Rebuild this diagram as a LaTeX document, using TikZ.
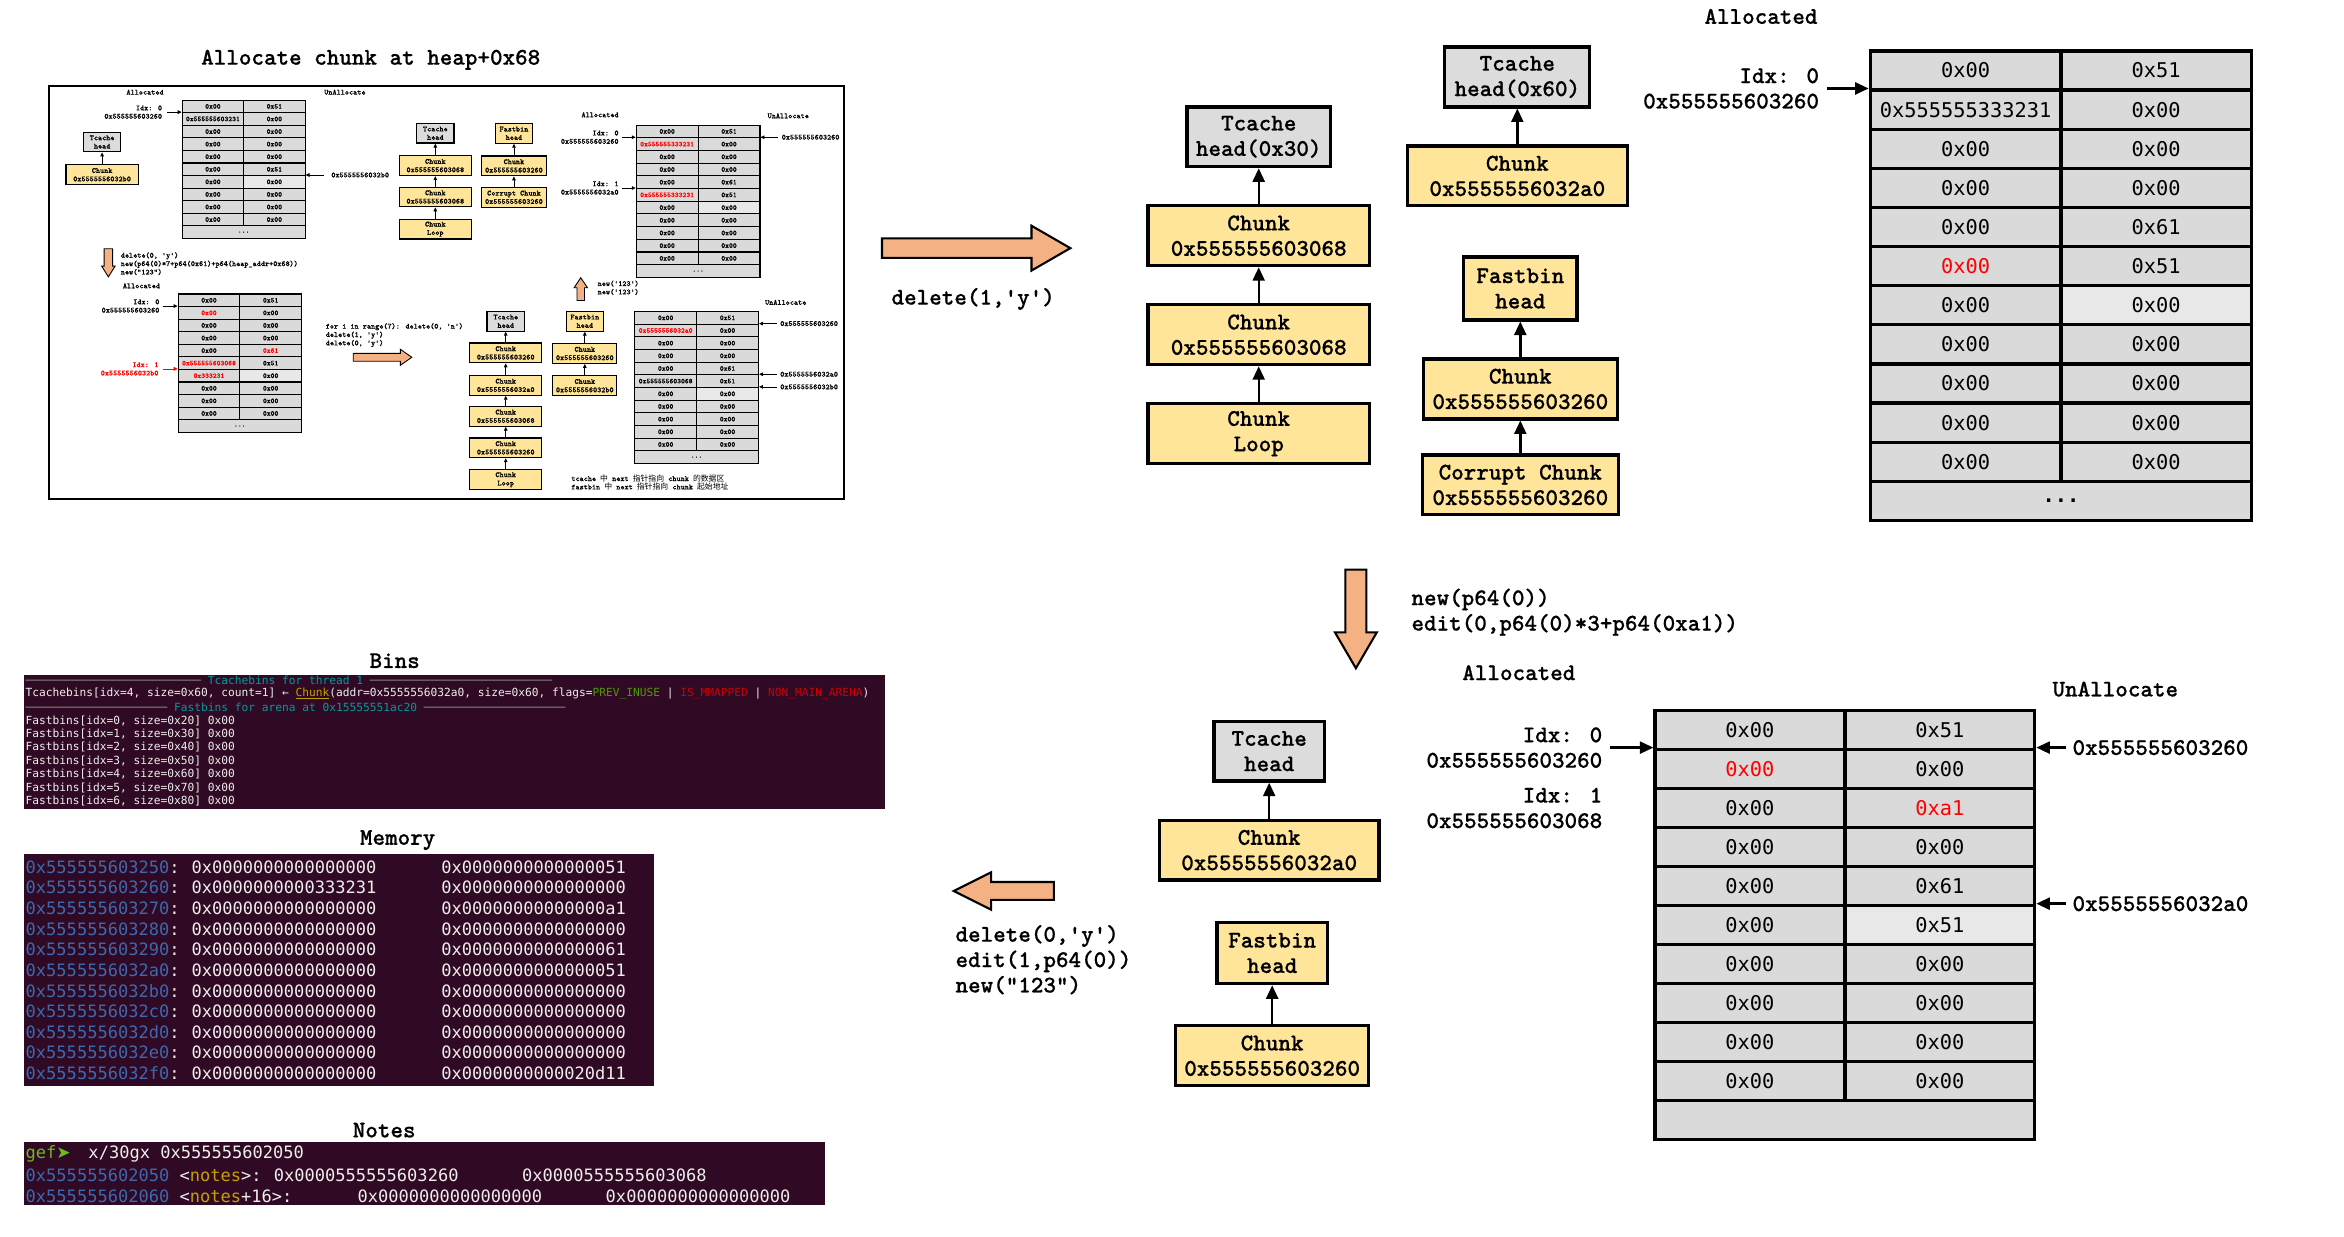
\documentclass[tikz,border=0pt]{standalone}
\usepackage{fontspec}
\usetikzlibrary{positioning, arrows.meta}
\newfontfamily\lblfam{lmmonolt10-bold.otf}[FakeBold=0.6]
\newfontfamily\cellfam{DejaVu Sans Mono}
\newfontfamily\symfam{DejaVu Sans}
\newfontfamily\cjk{Noto Sans CJK SC}
\definecolor{headgray}{RGB}{220, 220, 220}
\definecolor{cellbg}{RGB}{218, 218, 218}
\definecolor{cellhi}{RGB}{232, 232, 232}
\definecolor{chunkyel}{RGB}{255, 229, 153}
\definecolor{fatorange}{RGB}{244, 177, 131}
\definecolor{termbg}{RGB}{48, 10, 36}
\definecolor{termfg}{RGB}{238, 238, 236}
\definecolor{termteal}{RGB}{6, 152, 154}
\definecolor{termrule}{RGB}{136, 138, 133}
\definecolor{termyel}{RGB}{196, 160, 0}
\definecolor{termgrn}{RGB}{78, 154, 6}
\definecolor{gefgrn}{RGB}{110, 185, 30}
\definecolor{termred}{RGB}{204, 0, 0}
\definecolor{addrblue}{RGB}{60, 105, 175}
\newcommand{\lblfont}{\lblfam\fontsize{16}{17}\selectfont}
\newcommand{\cellfont}{\cellfam\fontsize{13.6}{16}\selectfont}
\newcommand{\minifont}{\lblfam\fontsize{5.25}{5.6}\selectfont}
\newcommand{\minicellfont}{\lblfam\fontsize{4.9}{5}\selectfont}
\newcommand{\binfont}{\cellfam\fontsize{7.5}{9}\selectfont}
\newcommand{\termfont}{\cellfam\fontsize{11.4}{13.8}\selectfont}
\newcommand{\bxfont}{\lblfont}
\newcommand{\redv}[1]{\textcolor{red}{#1}}
\def\bw{2.2pt}
\def\tabw{2.2pt}
\def\aw{1.6pt}
\def\tipl{9pt}
\def\tipw{8pt}
\def\fw{1.4pt}
% memory table: name, x, y, cell width, row height, light row, rows, values, last row
\newcommand{\memtable}[9]{%
  \foreach \lv/\rv [count=\i from 0] in {#8} {
    \ifnum\i=#6 \def\rfill{cellhi}\else\def\rfill{cellbg}\fi
    \node[cell, minimum width=#4, minimum height=#5, anchor=north west] (#1-\i-l) at ({#2}, {#3+\i*#5}) {\lv};
    \node[cell, fill=\rfill, minimum width=#4, minimum height=#5, anchor=north west] (#1-\i-r) at ({#2+#4}, {#3+\i*#5}) {\rv};
  }
  \node[cell, minimum width={2*#4}, minimum height=#5, anchor=north west] (#1-end) at ({#2}, {#3+#7*#5}) {#9};
}
% block arrow: tip x, tip y, angle, length, shaft, head width, head length
\newcommand{\fatarrow}[7]{%
  \draw[fatarr, shift={(#1,#2)}, rotate=#3] (0,0) -- (-#7,{#6/2}) -- (-#7,{#5/2}) -- (-#4,{#5/2})
    -- (-#4,{-#5/2}) -- (-#7,{-#5/2}) -- (-#7,{-#6/2}) -- cycle;
}

\begin{document}
\begin{tikzpicture}[x=1pt, y=-1pt,
    headbox/.style={draw, line width=\bw, fill=headgray, font=\bxfont, align=center, inner sep=0pt, minimum height=40pt},
    chunkbox/.style={headbox, fill=chunkyel},
    cell/.style={draw, line width=\tabw, fill=cellbg, font=\cellfont, inner sep=0pt},
    ptr/.style={-{Triangle[length=\tipl, width=\tipw]}, line width=\aw},
    lbl/.style={font=\lblfont, inner sep=0pt},
    fatarr/.style={draw, line width=\fw, fill=fatorange, line join=miter},
    term/.style={fill=termbg, inner sep=0pt, anchor=north west},
    ttext/.style={font=\termfont, text=termfg, inner sep=0pt, anchor=west},
    btext/.style={font=\binfont, text=termfg, inner sep=0pt, anchor=west}
  ]
  \useasboundingbox (0,0) rectangle (1568,827);

  % earlier steps, small copy
  \node[lbl] (title) at (248,40) {Allocate chunk at heap+0x68};
  \node[draw, line width=1.3pt, minimum width=532, minimum height=276, anchor=north west, inner sep=0pt] (frame) at (32,57) {};
  \begin{scope}[headbox/.append style={minimum height=13.2}]
    \def\bw{0.8pt}\def\tabw{0.75pt}\def\aw{0.5pt}\def\tipl{2.6pt}\def\tipw{2.4pt}\def\fw{0.6pt}
    \let\lblfont\minifont \let\bxfont\minifont \let\cellfont\minicellfont
    \node[lbl] (mal1) at (97,61.7) {Allocated};
    \node[lbl] (mun1) at (230.7,61.7) {UnAllocate};
    \memtable{mT1}{121.5}{66.6}{41.1}{8.41}{6}{10}{0x00/0x51, 0x555555603231/0x00, 0x00/0x00, 0x00/0x00, 0x00/0x00, 0x00/0x51, 0x00/0x00, 0x00/0x00, 0x00/0x00, 0x00/0x00}{...}
    \node[lbl, align=right, left=12.9pt of mT1-1-l.north west] (mid1) {Idx: 0\\0x555555603260};
    \draw[ptr] ([xshift=3.2pt]mid1.east) -- (mT1-1-l.north west);
    \node[lbl, right=17pt of mT1-6-r.north east] (mua1) {0x5555556032b0};
    \draw[ptr] ([xshift=-5pt]mua1.west) -- (mT1-6-r.north east);
    \node[headbox, minimum width=24.5] (mTc1) at (68.3,95) {Tcache\\head};
    \node[chunkbox, minimum width=48.3] (mCk1) at (68.3,116.9) {Chunk\\0x5555556032b0};
    \draw[ptr] (mCk1) -- (mTc1);

    \fatarrow{72.5}{185.2}{-90}{18.8}{5.6}{9}{7.2}
    \node[lbl, align=left, anchor=west] (mcmd1) at (80.6,176.4) {delete(0, 'y')\\new(p64(0)*7+p64(0x61)+p64(heap\_addr+0x68))\\new("123")};
    \node[lbl] (mal2) at (94.6,191.2) {Allocated};
    \memtable{mT2}{118.8}{196.3}{41.25}{8.41}{6}{10}{0x00/0x51, \redv{0x00}/0x00, 0x00/0x00, 0x00/0x00, 0x00/\redv{0x61}, \redv{0x555555603068}/0x51, \redv{0x333231}/0x00, 0x00/0x00, 0x00/0x00, 0x00/0x00}{...}
    \node[lbl, align=right, left=12pt of mT2-1-l.north west] (mid2) {Idx: 0\\0x555555603260};
    \draw[ptr] ([xshift=2.5pt]mid2.east) -- (mT2-1-l.north west);
    \node[lbl, align=right, text=red, left=12.6pt of mT2-6-l.north west] (mid3) {Idx: 1\\0x5555556032b0};
    \draw[ptr, red] ([xshift=3pt]mid3.east) -- (mT2-6-l.north west);
    \node[lbl, align=left, anchor=west] (mcmd2) at (217.7,224.2) {for i in range(7): delete(0, 'n')\\delete(1, 'y')\\delete(0, 'y')};
    \fatarrow{275.5}{239}{0}{39.2}{5.3}{10.7}{7.7}

    \node[headbox, minimum width=25] (mTc2) at (291.2,89.1) {Tcache\\head};
    \node[chunkbox, minimum width=48] (mCk2) at (291.2,110.8) {Chunk\\0x555555603068};
    \node[chunkbox, minimum width=48] (mCk3) at (291.2,131.8) {Chunk\\0x555555603068};
    \node[chunkbox, minimum width=48] (mCk4) at (291.2,153.3) {Chunk\\Loop};
    \draw[ptr] (mCk2) -- (mTc2);
    \draw[ptr] (mCk3) -- (mCk2);
    \draw[ptr] (mCk4) -- (mCk3);
    \node[chunkbox, minimum width=24.8] (mFb1) at (343.8,89.2) {Fastbin\\head};
    \node[chunkbox, minimum width=43.1] (mCk5) at (343.8,111) {Chunk\\0x555555603260};
    \node[chunkbox, minimum width=43.1] (mCk6) at (343.8,132) {Corrupt Chunk\\0x555555603260};
    \draw[ptr] (mCk5) -- (mFb1);
    \draw[ptr] (mCk6) -- (mCk5);

    \node[lbl] (mal3) at (401.4,76.8) {Allocated};
    \node[lbl] (mun3) at (527.3,77.5) {UnAllocate};
    \memtable{mT3}{425.2}{83.3}{41.4}{8.49}{6}{11}{0x00/0x51, \redv{0x555555333231}/0x00, 0x00/0x00, 0x00/0x00, 0x00/0x61, \redv{0x555555333231}/0x51, 0x00/0x00, 0x00/0x00, 0x00/0x00, 0x00/0x00, 0x00/0x00}{...}
    \node[lbl, align=right, left=11.2pt of mT3-1-l.north west] (mid4) {Idx: 0\\0x555555603260};
    \draw[ptr] ([xshift=2pt]mid4.east) -- (mT3-1-l.north west);
    \node[lbl, align=right, left=11.2pt of mT3-5-l.north west] (mid5) {Idx: 1\\0x5555556032a0};
    \draw[ptr] ([xshift=2pt]mid5.east) -- (mT3-5-l.north west);
    \node[lbl, right=14pt of mT3-1-r.north east] (mua3) {0x555555603260};
    \draw[ptr] ([xshift=-2pt]mua3.west) -- (mT3-1-r.north east);
    \fatarrow{388.5}{185.8}{90}{15.2}{5}{9}{6.7}
    \node[lbl, align=left, anchor=west] (mcmd3) at (399.6,192.5) {new('123')\\new('123')};

    \node[lbl] (mun4) at (525.6,202.3) {UnAllocate};
    \memtable{mT4}{424.2}{208}{41.4}{8.47}{6}{11}{0x00/0x51, \redv{0x5555556032a0}/0x00, 0x00/0x00, 0x00/0x00, 0x00/0x61, 0x555555603068/0x51, 0x00/0x00, 0x00/0x00, 0x00/0x00, 0x00/0x00, 0x00/0x00}{...}
    \node[lbl, right=14pt of mT4-1-r.north east] (mua4) {0x555555603260};
    \draw[ptr] ([xshift=-2pt]mua4.west) -- (mT4-1-r.north east);
    \node[lbl, right=14pt of mT4-5-r.north east] (mua5) {0x5555556032a0};
    \draw[ptr] ([xshift=-2pt]mua5.west) -- (mT4-5-r.north east);
    \node[lbl, right=14pt of mT4-6-r.north east] (mua6) {0x5555556032b0};
    \draw[ptr] ([xshift=-2pt]mua6.west) -- (mT4-6-r.north east);

    \node[headbox, minimum width=25] (mTc3) at (338.3,214.9) {Tcache\\head};
    \node[chunkbox, minimum width=48] (mCk7) at (338.3,236.1) {Chunk\\0x555555603260};
    \node[chunkbox, minimum width=48] (mCk8) at (338.3,257.8) {Chunk\\0x5555556032a0};
    \node[chunkbox, minimum width=48] (mCk9) at (338.3,278.5) {Chunk\\0x555555603068};
    \node[chunkbox, minimum width=48] (mCk10) at (338.3,299.6) {Chunk\\0x555555603260};
    \node[chunkbox, minimum width=48] (mCk11) at (338.3,320.9) {Chunk\\Loop};
    \draw[ptr] (mCk7) -- (mTc3);
    \draw[ptr] (mCk8) -- (mCk7);
    \draw[ptr] (mCk9) -- (mCk8);
    \draw[ptr] (mCk10) -- (mCk9);
    \draw[ptr] (mCk11) -- (mCk10);
    \node[chunkbox, minimum width=25] (mFb2) at (391.2,214.9) {Fastbin\\head};
    \node[chunkbox, minimum width=42.7] (mCk12) at (391.2,236.5) {Chunk\\0x555555603260};
    \node[chunkbox, minimum width=42.7] (mCk13) at (391.2,258) {Chunk\\0x5555556032b0};
    \draw[ptr] (mCk12) -- (mFb2);
    \draw[ptr] (mCk13) -- (mCk12);
    \node[lbl, align=left, anchor=west] (mnote) at (382,322.6) {tcache {\cjk 中} next {\cjk 指针指向} chunk {\cjk 的数据区}\\fastbin {\cjk 中} next {\cjk 指针指向} chunk {\cjk 起始地址}};
  \end{scope}

  % delete(1,'y') step
  \fatarrow{716}{166}{0}{126}{13}{30}{26}
  \node[lbl] (cmd1) at (651,200) {delete(1,'y')};
  \node[headbox, minimum width=96] (tcA) at (842,91.5) {Tcache\\head(0x30)};
  \node[chunkbox, minimum width=148, below=24pt of tcA] (c1) {Chunk\\0x555555603068};
  \node[chunkbox, minimum width=148, below=24pt of c1] (c2) {Chunk\\0x555555603068};
  \node[chunkbox, minimum width=148, below=24pt of c2] (c3) {Chunk\\Loop};
  \draw[ptr] (c1) -- (tcA);
  \draw[ptr] (c2) -- (c1);
  \draw[ptr] (c3) -- (c2);
  \node[headbox, minimum width=97] (tcB) at (1015,51.5) {Tcache\\head(0x60)};
  \node[chunkbox, minimum width=147, below=24pt of tcB] (c4) {Chunk\\0x5555556032a0};
  \draw[ptr] (c4) -- (tcB);
  \node[chunkbox, minimum width=76, minimum height=42] (fbA) at (1017,193) {Fastbin\\head};
  \node[chunkbox, minimum width=130, below=24pt of fbA] (c5) {Chunk\\0x555555603260};
  \node[chunkbox, minimum width=131, below=22pt of c5] (c6) {Corrupt Chunk\\0x555555603260};
  \draw[ptr] (c5) -- (fbA);
  \draw[ptr] (c6) -- (c5);

  \node[lbl] (alA) at (1178,11) {Allocated};
  \memtable{A}{1250}{33}{127.5}{26.17}{6}{11}{0x00/0x51, 0x555555333231/0x00, 0x00/0x00, 0x00/0x00, 0x00/0x61, \redv{0x00}/0x51, 0x00/0x00, 0x00/0x00, 0x00/0x00, 0x00/0x00, 0x00/0x00}{\textbf{...}}
  \node[lbl, align=right, left=33pt of A-1-l.north west] (idxA) {Idx: 0\\0x555555603260};
  \draw[ptr] ([xshift=5pt]idxA.east) -- (A-1-l.north west);

  % new / edit step
  \fatarrow{907}{447}{-90}{66}{14}{28}{24}
  \node[lbl, align=left, anchor=west] (cmd2) at (944,409.5) {new(p64(0))\\edit(0,p64(0)*3+p64(0xa1))};
  \node[lbl] (alB) at (1016,450) {Allocated};
  \node[lbl] (unB) at (1415,461) {UnAllocate};
  \memtable{B}{1106}{474}{127}{26.1}{5}{10}{0x00/0x51, \redv{0x00}/0x00, 0x00/\redv{0xa1}, 0x00/0x00, 0x00/0x61, 0x00/0x51, 0x00/0x00, 0x00/0x00, 0x00/0x00, 0x00/0x00}{}
  \node[lbl, align=right, left=34pt of B-1-l.north west] (idxB0) {Idx: 0\\0x555555603260};
  \draw[ptr] ([xshift=5pt]idxB0.east) -- (B-1-l.north west);
  \node[lbl, align=right, anchor=east] (idxB1) at (1072,540.5) {Idx: 1\\0x555555603068};
  \node[lbl, right=24pt of B-1-r.north east] (uB1) {0x555555603260};
  \draw[ptr] ([xshift=-4pt]uB1.west) -- (B-1-r.north east);
  \node[lbl, right=24pt of B-5-r.north east] (uB5) {0x5555556032a0};
  \draw[ptr] ([xshift=-4pt]uB5.west) -- (B-5-r.north east);
  \node[headbox, minimum width=74] (tcC) at (849,502.5) {Tcache\\head};
  \node[chunkbox, minimum width=147, below=24pt of tcC] (c7) {Chunk\\0x5555556032a0};
  \draw[ptr] (c7) -- (tcC);
  \node[chunkbox, minimum width=74, minimum height=41] (fbB) at (851,637.5) {Fastbin\\head};
  \node[chunkbox, minimum width=129, below=26pt of fbB] (c8) {Chunk\\0x555555603260};
  \draw[ptr] (c8) -- (fbB);

  % last step
  \fatarrow{638}{596}{180}{67}{12}{25}{25}
  \node[lbl, align=left, anchor=west] (cmd3) at (639,642) {delete(0,'y')\\edit(1,p64(0))\\new("123")};

  % gdb output
  \node[lbl] (tbins) at (264,442) {Bins};
  \node[term, minimum width=576, minimum height=90] (binsp) at (16,451) {};
  \node[btext] (b0) at (17,455) {\textcolor{termrule}{\foreach \k in {1,...,26}{─}} \textcolor{termteal}{Tcachebins for thread 1} \textcolor{termrule}{\foreach \k in {1,...,27}{─}}};
  \node[btext] (b1) at (17,464) {Tcachebins[idx=4, size=0x60, count=1] ← \textcolor{termyel}{\underline{Chunk}}(addr=0x5555556032a0, size=0x60, flags=\textcolor{termgrn}{PREV\_INUSE} | \textcolor{termred}{IS\_MMAPPED} | \textcolor{termred}{NON\_MAIN\_ARENA})};
  \node[btext] (b2) at (17,473) {\textcolor{termrule}{\foreach \k in {1,...,21}{─}} \textcolor{termteal}{Fastbins for arena at 0x15555551ac20} \textcolor{termrule}{\foreach \k in {1,...,21}{─}}};
  \foreach \s [count=\i from 0] in {2,3,4,5,6,7,8}
    \node[btext] (fb\i) at (17,{482+9*\i}) {Fastbins[idx=\i, size=0x\s0] 0x00};

  \node[lbl] (tmem) at (266,562) {Memory};
  \node[term, minimum width=421, minimum height=155] (memp) at (16,571) {};
  \foreach \a/\u/\v [count=\i from 0] in {603250/0000000000000000/0000000000000051, 603260/0000000000333231/0000000000000000, 603270/0000000000000000/00000000000000a1, 603280/0000000000000000/0000000000000000, 603290/0000000000000000/0000000000000061, 6032a0/0000000000000000/0000000000000051, 6032b0/0000000000000000/0000000000000000, 6032c0/0000000000000000/0000000000000000, 6032d0/0000000000000000/0000000000000000, 6032e0/0000000000000000/0000000000000000, 6032f0/0000000000000000/0000000000020d11} {
    \node[ttext] (ma\i) at (17,{580+13.8*\i}) {\textcolor{addrblue}{0x555555\a}:};
    \node[ttext] (mu\i) at (128,{580+13.8*\i}) {0x\u};
    \node[ttext] (mv\i) at (295,{580+13.8*\i}) {0x\v};
  }

  \node[lbl] (tnotes) at (257,756) {Notes};
  \node[term, minimum width=536, minimum height=42] (notesp) at (16,764) {};
  \node[ttext, text=gefgrn] (n0) at (17,772) {gef{\symfam ➤}};
  \node[ttext] (n0c) at (59,772) {x/30gx 0x555555602050};
  \node[ttext] (n1) at (17,786) {\textcolor{addrblue}{0x555555602050} <\textcolor{termyel}{notes}>:};
  \node[ttext] (n1a) at (183,786) {0x0000555555603260};
  \node[ttext] (n1b) at (349,786) {0x0000555555603068};
  \node[ttext] (n2) at (17,800) {\textcolor{addrblue}{0x555555602060} <\textcolor{termyel}{notes}+16>:};
  \node[ttext] (n2a) at (239,800) {0x0000000000000000};
  \node[ttext] (n2b) at (405,800) {0x0000000000000000};
\end{tikzpicture}
\end{document}
